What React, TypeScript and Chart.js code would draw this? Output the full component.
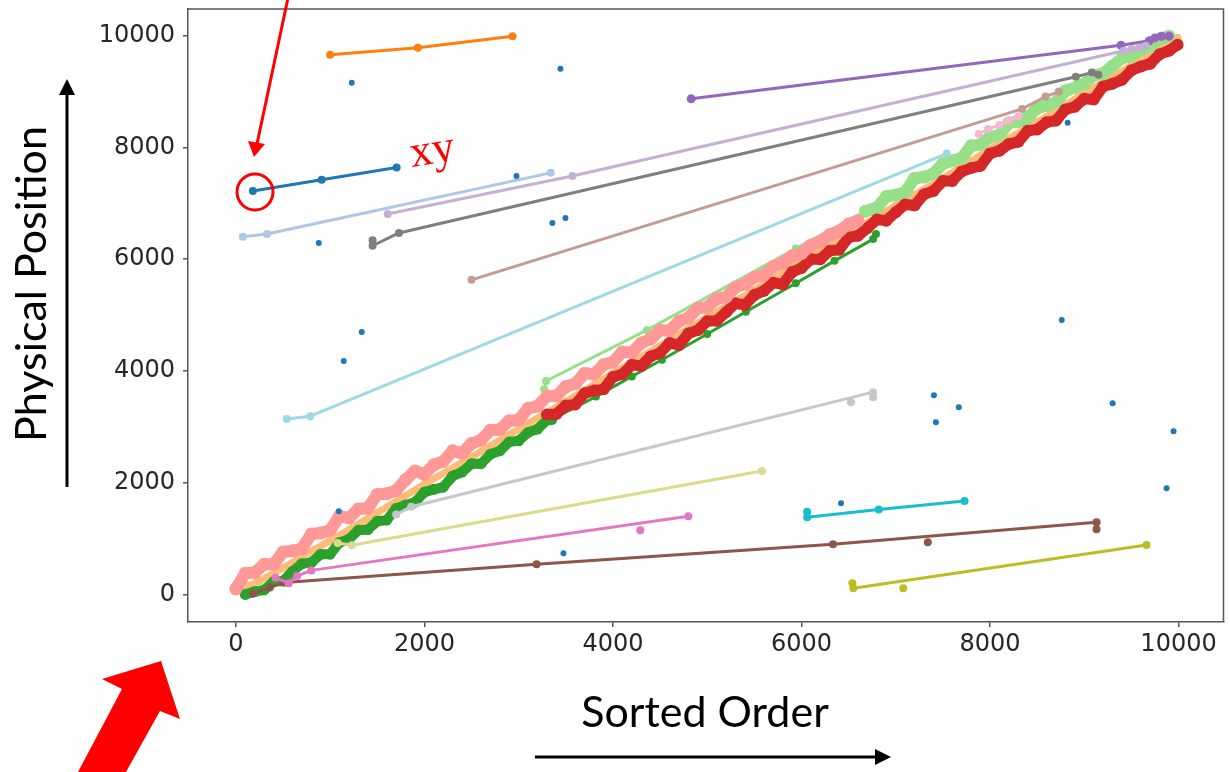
import React, { useEffect, useRef } from "react";
import { Chart, registerables } from "chart.js";

Chart.register(...registerables);

type P = [number, number];

// ---------- axes ----------
const xTicks = [0, 2000, 4000, 6000, 8000, 10000];
const yTicks = [0, 2000, 4000, 6000, 8000, 10000];
const xTitle = "Sorted Order";
const yTitle = "Physical Position";
const noteText = "xy";

// ---------- series (Sorted Order, Physical Position) ----------
const bluePts: P[] = [[180, 7220], [910, 7420], [1705, 7640]];
const lightBluePts: P[] = [[74, 6400], [330, 6450], [3340, 7545]];
const orangePts: P[] = [[1000, 9660], [1930, 9785], [2935, 9990]];
const lightOrangePts: P[] = [
  [0, 60], [250, 240], [500, 470], [750, 730], [1000, 960], [1500, 1460], [2000, 1970],
  [2500, 2460], [3000, 2960], [3500, 3450], [4000, 3960], [4500, 4450], [5000, 4960],
  [5500, 5450], [6000, 5960], [6500, 6450], [7000, 6960], [7500, 7450], [8000, 7970],
  [8500, 8450], [9000, 8970], [9500, 9460], [9800, 9800], [9990, 9960],
];
const greenBandPts: P[] = [
  [100, 0], [200, 50], [300, 80], [400, 230], [500, 240], [600, 410], [700, 550],
  [800, 570], [900, 720], [1000, 720], [1100, 930], [1200, 990], [1300, 1150],
  [1400, 1160], [1500, 1310], [1600, 1330], [1700, 1540], [1800, 1600], [1900, 1650],
  [2000, 1830], [2100, 1880], [2200, 1920], [2300, 2120], [2400, 2190], [2500, 2340],
  [2600, 2340], [2700, 2510], [2800, 2570], [2900, 2730], [3000, 2750], [3100, 2900],
  [3200, 2960], [3300, 3120], [3350, 3130],
];
const greenTailPts: P[] = [
  [3350, 3130], [3820, 3540], [4200, 3900], [4520, 4200], [5000, 4660], [5410, 5060],
  [5940, 5570], [6350, 5970], [6760, 6360], [6790, 6450],
];
const lightGreenTailPts: P[] = [[3270, 3670], [3290, 3820], [4360, 4730], [5940, 6190], [6680, 6860]];
const lightGreenBandPts: P[] = [
  [6680, 6860], [6800, 6920], [6900, 7120], [7000, 7150], [7100, 7200], [7200, 7450],
  [7300, 7470], [7400, 7530], [7500, 7710], [7600, 7760], [7700, 7810], [7800, 8030],
  [7900, 8050], [8000, 8190], [8100, 8220], [8200, 8440], [8300, 8460], [8400, 8530],
  [8500, 8700], [8600, 8750], [8700, 8810], [8800, 9010], [8900, 9070], [9000, 9140],
  [9100, 9290], [9200, 9320], [9300, 9460], [9400, 9600], [9500, 9630], [9600, 9750],
  [9700, 9810], [9800, 9940], [9900, 9990],
];
const redPts: P[] = [
  [3300, 3220], [3400, 3230], [3500, 3380], [3600, 3400], [3700, 3600], [3800, 3650],
  [3900, 3670], [4000, 3890], [4100, 3940], [4200, 4110], [4300, 4090], [4400, 4260],
  [4500, 4320], [4600, 4500], [4700, 4460], [4800, 4670], [4900, 4730], [5000, 4890],
  [5100, 4900], [5200, 5050], [5300, 5210], [5400, 5180], [5500, 5360], [5600, 5430],
  [5700, 5580], [5800, 5550], [5900, 5770], [6000, 5840], [6100, 6000], [6200, 6000],
  [6300, 6150], [6400, 6170], [6500, 6390], [6600, 6420], [6700, 6560], [6800, 6710],
  [6900, 6690], [7000, 6840], [7100, 6980], [7200, 6960], [7300, 7160], [7400, 7220],
  [7500, 7400], [7600, 7400], [7700, 7570], [7800, 7630], [7900, 7670], [8000, 7890],
  [8100, 7940], [8200, 8060], [8300, 8100], [8400, 8300], [8500, 8320], [8600, 8450],
  [8700, 8480], [8800, 8680], [8900, 8730], [9000, 8870], [9100, 8860], [9200, 9090],
  [9300, 9140], [9400, 9210], [9500, 9380], [9600, 9450], [9700, 9500], [9800, 9670],
  [9900, 9730], [9990, 9840],
];
const salmonPts: P[] = [
  [0, 100], [100, 380], [200, 390], [300, 540], [400, 540], [500, 760], [600, 780],
  [700, 820], [800, 1080], [900, 1100], [1000, 1150], [1100, 1400], [1200, 1370],
  [1300, 1530], [1400, 1540], [1500, 1790], [1600, 1800], [1700, 1860], [1800, 2050],
  [1900, 2210], [2000, 2150], [2100, 2320], [2200, 2380], [2300, 2570], [2400, 2530],
  [2500, 2700], [2600, 2760], [2700, 2940], [2800, 2950], [2900, 3110], [3000, 3120],
  [3100, 3330], [3200, 3370], [3300, 3550], [3400, 3550], [3500, 3720], [3600, 3770],
  [3700, 3960], [3800, 3940], [3900, 4110], [4000, 4160], [4100, 4340], [4200, 4330],
  [4300, 4500], [4400, 4570], [4500, 4730], [4600, 4720], [4700, 4890], [4800, 4950],
  [4900, 5120], [5000, 5140], [5100, 5290], [5200, 5320], [5300, 5500], [5400, 5550],
  [5500, 5680], [5600, 5710], [5700, 5870], [5800, 5930], [5900, 6060], [6000, 6100],
  [6100, 6250], [6200, 6320], [6300, 6440], [6400, 6500], [6500, 6630], [6600, 6690],
];
const purplePts: P[] = [[4830, 8870], [9390, 9830], [9690, 9910], [9750, 9960], [9820, 9990], [9900, 9990]];
const lavenderPts: P[] = [[1610, 6810], [3570, 7490], [9420, 9730], [9500, 9760], [9580, 9790], [9650, 9820]];
const brownPts: P[] = [[180, 10], [360, 125], [520, 215], [3190, 540], [6335, 896], [9130, 1290], [9130, 1165]];
const brownDotPts: P[] = [[7340, 932]];
const tanPts: P[] = [[2500, 5630], [8340, 8690], [8590, 8910], [8730, 9000]];
const pinkPts: P[] = [[420, 300], [560, 200], [650, 330], [800, 430], [4800, 1400]];
const pinkDotPts: P[] = [[4290, 1147]];
const lightPinkPts: P[] = [[7880, 8240], [7980, 8330], [8100, 8400], [8200, 8480], [8300, 8560]];
const grayPts: P[] = [[1450, 6340], [1450, 6240], [1730, 6470], [8910, 9265], [9080, 9340], [9150, 9300]];
const lightGrayPts: P[] = [[1700, 1430], [1860, 1570], [6760, 3620], [6760, 3530]];
const lightGrayDotPts: P[] = [[6525, 3440]];
const olivePts: P[] = [[6540, 200], [6550, 110], [9660, 885]];
const oliveDotPts: P[] = [[7080, 110]];
const lightOlivePts: P[] = [[1080, 920], [1230, 880], [5580, 2210]];
const cyanPts: P[] = [[6060, 1480], [6060, 1380], [6820, 1520], [7730, 1670]];
const lightCyanPts: P[] = [[540, 3140], [790, 3190], [7540, 7890]];
const outlierPts: P[] = [
  [1229, 9158], [3443, 9409], [2977, 7491], [3358, 6649], [3496, 6738], [879, 6290],
  [1335, 4695], [1144, 4176], [1091, 1487], [3475, 735], [8761, 4910], [7405, 3566],
  [7669, 3351], [7426, 3082], [9301, 3423], [9947, 2921], [9873, 1900], [6419, 1631],
  [8824, 8441],
];

const FRAME = "#555555";
const RED = "#ff0000";
const LW = 3;
const MR = 4;

const toXY = (a: P[]) => a.map(([x, y]) => ({ x, y }));

function lineDs(label: string, pts: P[], color: string, width: number, radius: number) {
  return {
    label,
    data: toXY(pts),
    showLine: true,
    borderColor: color,
    backgroundColor: color,
    borderWidth: width,
    borderJoinStyle: "round",
    borderCapStyle: "round",
    pointRadius: radius,
    pointBorderWidth: 0,
    pointBackgroundColor: color,
    pointHoverRadius: 0,
  } as any;
}
function dotDs(label: string, pts: P[], color: string, radius: number) {
  return {
    label,
    data: toXY(pts),
    showLine: false,
    backgroundColor: color,
    borderColor: color,
    pointRadius: radius,
    pointBorderWidth: 0,
    pointHoverRadius: 0,
  } as any;
}

function poly(ctx: CanvasRenderingContext2D, pts: number[][], color: string) {
  ctx.fillStyle = color;
  ctx.beginPath();
  ctx.moveTo(pts[0][0], pts[0][1]);
  for (let i = 1; i < pts.length; i++) ctx.lineTo(pts[i][0], pts[i][1]);
  ctx.closePath();
  ctx.fill();
}

const annotations = {
  id: "annotations",
  afterDraw(chart: any) {
    const ctx: CanvasRenderingContext2D = chart.ctx;
    const a = chart.chartArea;
    ctx.save();
    // frame: top and right sides
    ctx.strokeStyle = FRAME;
    ctx.lineWidth = 1.5;
    ctx.beginPath();
    ctx.moveTo(a.left, a.top);
    ctx.lineTo(a.right, a.top);
    ctx.lineTo(a.right, a.bottom);
    ctx.stroke();

    // axis titles
    ctx.fillStyle = "#000";
    ctx.font = "43px Lato";
    ctx.textAlign = "center";
    ctx.textBaseline = "alphabetic";
    ctx.save();
    ctx.translate(46, 284);
    ctx.rotate(-Math.PI / 2);
    ctx.fillText(yTitle, 0, 0);
    ctx.restore();
    ctx.fillText(xTitle, 705, 727);

    // black arrows
    ctx.strokeStyle = "#000";
    ctx.lineWidth = 3;
    ctx.beginPath();
    ctx.moveTo(67, 487);
    ctx.lineTo(67, 92);
    ctx.stroke();
    poly(ctx, [[67, 79], [59, 95], [75, 95]], "#000");
    ctx.beginPath();
    ctx.moveTo(535, 757);
    ctx.lineTo(878, 757);
    ctx.stroke();
    poly(ctx, [[891, 757], [875, 749], [875, 765]], "#000");

    // red thin arrow + circle
    ctx.strokeStyle = RED;
    ctx.lineWidth = 3;
    ctx.beginPath();
    ctx.moveTo(288, -2);
    ctx.lineTo(257, 144);
    ctx.stroke();
    poly(ctx, [[254, 157], [248, 141], [265, 144]], RED);
    ctx.beginPath();
    ctx.arc(255, 192, 18, 0, Math.PI * 2);
    ctx.stroke();

    // "xy"
    ctx.save();
    ctx.fillStyle = RED;
    ctx.font = "45px 'Liberation Serif'";
    ctx.textAlign = "left";
    ctx.translate(412, 167);
    ctx.rotate(-0.16);
    ctx.fillText(noteText, 0, 0);
    ctx.restore();

    // big red arrow
    poly(ctx, [[161, 661], [180, 719], [160, 711], [126, 772], [78, 772], [122, 689], [102, 679]], RED);
    ctx.restore();
  },
};

export default function App() {
  const ref = useRef<HTMLCanvasElement | null>(null);
  useEffect(() => {
    if (!ref.current) return;
    const datasets: any[] = [
      lineDs("blue", bluePts, "#1f77b4", LW, MR),
      lineDs("lightBlue", lightBluePts, "#aec7e8", LW, MR),
      lineDs("orange", orangePts, "#ff7f0e", LW, MR),
      lineDs("lightOrange", lightOrangePts, "#ffbb78", 7, 4),
      lineDs("greenBand", greenBandPts, "#2ca02c", 10, 5.5),
      lineDs("greenTail", greenTailPts, "#2ca02c", LW, MR),
      lineDs("lightGreenTail", lightGreenTailPts, "#98df8a", LW, MR),
      lineDs("lightGreenBand", lightGreenBandPts, "#98df8a", 12, 6.5),
      lineDs("red", redPts, "#d62728", 11, 6),
      lineDs("salmon", salmonPts, "#ff9896", 12, 6.5),
      lineDs("purple", purplePts, "#9467bd", LW, 4.5),
      lineDs("lavender", lavenderPts, "#c5b0d5", LW, MR),
      lineDs("brown", brownPts, "#8c564b", LW, MR),
      dotDs("brownDot", brownDotPts, "#8c564b", MR),
      lineDs("tan", tanPts, "#c49c94", LW, MR),
      lineDs("pink", pinkPts, "#e377c2", LW, MR),
      dotDs("pinkDot", pinkDotPts, "#e377c2", MR),
      lineDs("lightPink", lightPinkPts, "#f7b6d2", LW, MR),
      lineDs("gray", grayPts, "#7f7f7f", LW, MR),
      lineDs("lightGray", lightGrayPts, "#c7c7c7", LW, MR),
      dotDs("lightGrayDot", lightGrayDotPts, "#c7c7c7", MR),
      lineDs("olive", olivePts, "#bcbd22", LW, MR),
      dotDs("oliveDot", oliveDotPts, "#bcbd22", MR),
      lineDs("lightOlive", lightOlivePts, "#dbdb8d", LW, MR),
      lineDs("cyan", cyanPts, "#17becf", LW, MR),
      lineDs("lightCyan", lightCyanPts, "#9edae5", LW, MR),
      dotDs("outliers", outlierPts, "#1f77b4", 3),
    ];
    const n = datasets.length;
    datasets.forEach((d, i) => (d.order = n - i));

    const tickFont = { family: "'DejaVu Sans'", size: 24 };
    const axisGrid = { drawOnChartArea: false, drawTicks: true, tickLength: 5, color: FRAME, lineWidth: 1.5 };
    const axisBorder = { display: true, color: FRAME, width: 1.5 };
    const plain = (v: any) => String(v);

    const chart = new Chart(ref.current, {
      type: "scatter",
      data: { datasets },
      options: {
        responsive: false,
        maintainAspectRatio: false,
        animation: false,
        devicePixelRatio: 1,
        events: [],
        layout: { padding: { top: 9, right: 5, left: 0, bottom: 0 } },
        plugins: { legend: { display: false }, tooltip: { enabled: false } },
        scales: {
          x: {
            type: "linear",
            min: -508,
            max: 10477,
            afterBuildTicks: (s: any) => {
              s.ticks = xTicks.map((v) => ({ value: v }));
            },
            afterFit: (s: any) => {
              s.height = 150;
              s.paddingLeft = 0;
              s.paddingRight = 0;
              s.paddingTop = 0;
              s.paddingBottom = 0;
            },
            grid: axisGrid,
            border: axisBorder,
            ticks: { font: tickFont, color: "#262626", padding: 3, maxRotation: 0, autoSkip: false, callback: plain },
          },
          y: {
            type: "linear",
            min: -494,
            max: 10478,
            afterBuildTicks: (s: any) => {
              s.ticks = yTicks.map((v) => ({ value: v }));
            },
            afterFit: (s: any) => {
              s.width = 188;
              s.paddingLeft = 0;
              s.paddingRight = 0;
              s.paddingTop = 0;
              s.paddingBottom = 0;
            },
            grid: axisGrid,
            border: axisBorder,
            ticks: { font: tickFont, color: "#262626", padding: 8, autoSkip: false, callback: plain },
          },
        },
      } as any,
      plugins: [annotations],
    });
    return () => chart.destroy();
  }, []);

  return (
    <div style={{ position: "fixed", left: 0, top: 0, width: 1230, height: 772, background: "#fff" }}>
      <canvas ref={ref} width={1230} height={772} style={{ display: "block", width: 1230, height: 772 }} />
    </div>
  );
}
